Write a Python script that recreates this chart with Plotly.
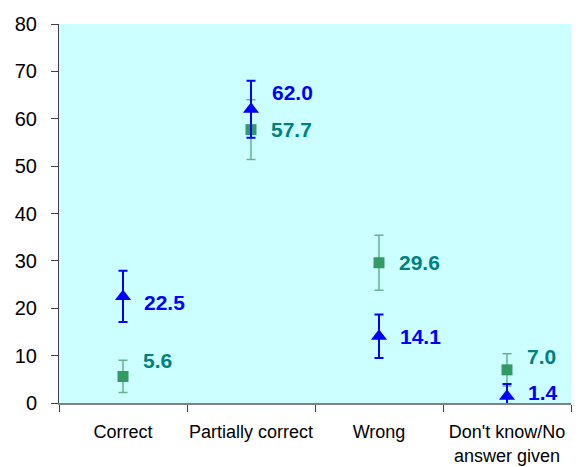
import plotly.graph_objects as go

# Response categories and the two measured series (percent)
categories = ["Correct", "Partially correct", "Wrong", "Don't know/No<br>answer given"]
blue_values = [22.5, 62.0, 14.1, 1.4]
blue_errors = [5.4, 6.0, 4.6, 2.6]
green_values = [5.6, 57.7, 29.6, 7.0]
green_errors = [3.4, 6.3, 5.8, 3.4]

# Vertical pixel nudges for the value labels so they don't collide
blue_label_shift = [-6, 17, 0, 4]
green_label_shift = [16, 0, 0, 13]

FONT = "Liberation Sans, Arial, sans-serif"
BLUE = "#0000FF"
GREEN_MARK = "#339966"
GREEN_BAR = "#66B28A"
TEAL = "#008080"

fig = go.Figure()

fig.add_trace(go.Scatter(
    x=categories, y=green_values, mode="markers",
    marker=dict(symbol="square", size=11, color=GREEN_MARK),
    error_y=dict(type="data", array=green_errors, symmetric=True,
                 color=GREEN_BAR, thickness=1.5, width=4.5),
    showlegend=False,
))
fig.add_trace(go.Scatter(
    x=categories, y=blue_values, mode="markers",
    marker=dict(symbol="triangle-up", size=14, color=BLUE),
    error_y=dict(type="data", array=blue_errors, symmetric=True,
                 color=BLUE, thickness=2, width=4.5),
    showlegend=False,
))

annotations = []
for cat, v, s in zip(categories, blue_values, blue_label_shift):
    annotations.append(dict(
        x=cat, y=v, text=f"<b>{v:.1f}</b>", showarrow=False,
        xanchor="left", yanchor="middle", xshift=19, yshift=s,
        font=dict(family=FONT, size=21, color=BLUE),
    ))
for cat, v, s in zip(categories, green_values, green_label_shift):
    annotations.append(dict(
        x=cat, y=v, text=f"<b>{v:.1f}</b>", showarrow=False,
        xanchor="left", yanchor="middle", xshift=18, yshift=s,
        font=dict(family=FONT, size=21, color=TEAL),
    ))

fig.update_layout(
    width=579, height=467,
    margin=dict(l=59, r=8, t=24, b=64),
    paper_bgcolor="white",
    plot_bgcolor="#CCFFFF",
    font=dict(family=FONT, color="black"),
    annotations=annotations,
    xaxis=dict(
        type="category", range=[-0.5, 3.5], tickson="boundaries",
        ticks="outside", ticklen=7, ticklabelstandoff=12,
        tickangle=0, automargin=False,
        tickcolor="#404040", showline=True, linecolor="#808080", linewidth=1.5,
        showgrid=False, zeroline=False,
        tickfont=dict(family=FONT, size=18, color="black"),
    ),
    yaxis=dict(
        range=[0, 80], dtick=10, ticks="outside", ticklen=7,
        ticklabelstandoff=10, automargin=False,
        tickcolor="#404040", showline=True, linecolor="#404040", linewidth=1,
        showgrid=False, zeroline=False,
        tickfont=dict(family=FONT, size=20, color="black"),
    ),
)

fig.write_html("out.html")
